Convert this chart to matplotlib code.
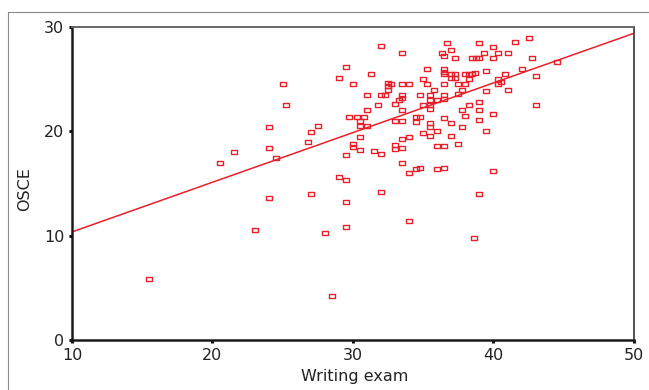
import matplotlib
matplotlib.use("Agg")
import matplotlib.pyplot as plt
import numpy as np
from matplotlib.path import Path
from matplotlib.patches import Rectangle

# ---- data ----
writing = [15.5, 20.5, 21.5, 23.0, 24.0, 24.0, 24.0, 24.5, 25.0, 25.2,
           26.8, 27.0, 27.5, 27.0, 28.0, 28.5, 29.0, 29.0, 29.5, 29.5,
           29.5, 29.5, 29.5, 30.0, 29.75, 30.25, 30.75, 30.5, 30.5, 31.0,
           30.5, 30.0, 30.0, 30.5, 31.0, 31.0, 31.3, 31.5, 31.75, 32.0,
           32.3, 32.0, 32.0, 32.0, 32.5, 32.7, 32.5, 32.5, 33.0, 33.25,
           33.5, 33.5, 33.5, 34.0, 33.5, 33.5, 33.0, 33.5, 33.0, 33.0,
           33.5, 33.5, 34.0, 33.5, 34.0, 34.5, 34.75, 34.0, 34.5, 34.75,
           34.5, 34.75, 35.0, 35.0, 35.5, 35.5, 35.0, 35.3, 35.3, 35.5,
           35.5, 36.0, 36.5, 36.5, 35.5, 35.5, 35.5, 35.8, 36.0, 36.0,
           36.5, 36.0, 36.5, 36.3, 36.5, 36.5, 36.5, 36.5, 36.5, 36.5,
           36.7, 37.0, 37.0, 37.25, 37.0, 37.25, 37.0, 37.0, 37.25, 37.5,
           37.5, 37.5, 37.75, 37.75, 37.75, 38.0, 38.25, 38.5, 38.66, 38.0,
           38.25, 38.0, 38.25, 38.5, 38.75, 39.0, 38.6, 39.0, 39.0, 39.0,
           39.0, 39.0, 39.3, 39.5, 39.5, 39.5, 40.0, 40.0, 40.0, 40.0,
           40.3, 40.3, 40.5, 40.3, 40.8, 41.0, 41.0, 41.5, 42.0, 42.5,
           42.75, 43.0, 43.0, 44.5]
osce = [5.8, 17.0, 18.0, 10.5, 20.4, 18.4, 13.6, 17.4, 24.5, 22.5,
        19.0, 19.9, 20.5, 14.0, 10.3, 4.2, 25.1, 15.6, 26.2, 17.7,
        15.3, 13.2, 10.8, 24.5, 21.4, 21.4, 21.4, 21.0, 20.5, 20.5,
        19.5, 18.8, 18.5, 18.2, 23.5, 22.0, 25.5, 18.1, 22.5, 23.5,
        23.5, 28.2, 17.8, 14.2, 24.6, 24.5, 24.3, 24.0, 22.6, 23.0,
        23.2, 23.5, 24.5, 24.5, 27.5, 22.0, 21.0, 21.0, 18.7, 18.3,
        18.4, 19.3, 19.5, 17.0, 16.0, 16.4, 16.5, 11.4, 21.4, 21.4,
        20.9, 23.5, 25.0, 22.5, 22.5, 22.1, 19.8, 26.0, 24.5, 23.5,
        23.0, 23.0, 23.1, 23.5, 20.8, 20.4, 19.6, 24.0, 20.0, 18.6,
        18.6, 16.4, 16.5, 27.5, 27.2, 26.0, 25.7, 25.5, 24.5, 21.3,
        28.5, 27.8, 25.5, 25.5, 25.1, 25.1, 20.8, 19.6, 27.0, 24.5,
        23.6, 18.8, 24.0, 22.0, 20.4, 25.5, 25.5, 25.5, 25.6, 24.5,
        25.0, 21.5, 22.5, 27.0, 27.0, 27.0, 9.8, 28.5, 22.8, 22.0,
        21.1, 14.0, 27.5, 25.8, 23.9, 20.0, 28.1, 27.0, 21.7, 16.2,
        27.5, 25.0, 24.7, 24.5, 25.5, 27.5, 24.0, 28.6, 26.0, 28.9,
        27.0, 25.3, 22.5, 26.6]
fit_intercept = 5.6
fit_slope = 0.476
x_ticks = [10, 20, 30, 40, 50]
y_ticks = [0, 10, 20, 30]

red = "#e8202a"
plt.rcParams['font.family'] = ['DejaVu Sans']

fig = plt.figure(figsize=(6.49, 3.90), dpi=100)
ax = fig.add_axes([72/649, 1-340/390, (634-72)/649, (340-27)/390])

# figure frame (thin grey border at left/top)
fig.patches.append(Rectangle((8/649, -0.1), 1.2, 1-12/390+0.1,
                             transform=fig.transFigure, fill=False,
                             edgecolor="#8a8a8a", linewidth=0.8))

box = Path([(-1, -0.6), (1, -0.6), (1, 0.6), (-1, 0.6), (-1, -0.6)],
           [Path.MOVETO, Path.LINETO, Path.LINETO, Path.LINETO, Path.CLOSEPOLY])
ax.plot(writing, osce, linestyle='none', marker=box, markersize=4.8,
        markerfacecolor='none', markeredgecolor=red, markeredgewidth=1.0)

xl = np.array([10, 50])
ax.plot(xl, fit_intercept + fit_slope * xl, color=red, linewidth=1.1)

ax.set_xlim(10, 50)
ax.set_ylim(0, 30)
ax.set_xticks(x_ticks)
ax.set_yticks(y_ticks)
ax.tick_params(direction='out', length=2.5, width=2.2, color='#111',
               labelsize=11.5, labelcolor='#222', pad=3)
for s in ['left', 'bottom']:
    ax.spines[s].set_linewidth(1.8)
    ax.spines[s].set_color('#1a1a1a')
ax.spines['right'].set_linewidth(1.2)
ax.spines['right'].set_color('#333333')
ax.spines['top'].set_linewidth(1.4)
ax.spines['top'].set_color('#666666')

ax.set_xlabel('Writing exam', fontsize=11.5, color='#222')
ax.xaxis.set_label_coords(0.503, -0.092)
ax.set_ylabel('OSCE', fontsize=11.5, color='#222')
ax.yaxis.set_label_coords(-0.071, 0.482)

fig.savefig('out.png', dpi=100)
